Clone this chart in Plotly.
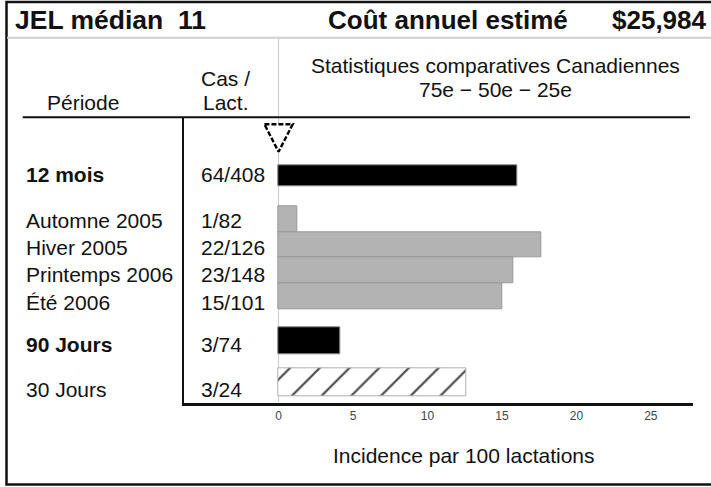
import plotly.graph_objects as go

# ---------------- data ----------------
periods = ["12 mois", "Automne 2005", "Hiver 2005", "Printemps 2006", "Été 2006", "90 Jours", "30 Jours"]
cases = ["64/408", "1/82", "22/126", "23/148", "15/101", "3/74", "3/24"]
incidence = [16.0, 1.25, 17.65, 15.75, 15.05, 4.15, 12.6]
bold_rows = [True, False, False, False, False, True, False]
bar_colors = ["#000000", "#b3b3b3", "#b3b3b3", "#b3b3b3", "#b3b3b3", "#000000", "#ffffff"]
bar_line_colors = ["#8a8a8a", "#999999", "#999999", "#999999", "#999999", "#8a8a8a", "#b0b0b0"]
bar_patterns = ["", "", "", "", "", "", "/"]
percentile_marker = 0
x_ticks = [0, 5, 10, 15, 20, 25]
jel_median = "11"
annual_cost = "$25,984"
title_left = "JEL médian"
title_mid = "Coût annuel estimé"
header_period = "Période"
header_cases = ["Cas /", "Lact."]
header_stats = ["Statistiques comparatives Canadiennes", "75e − 50e − 25e"]
x_title = "Incidence par 100 lactations"

# ---------------- layout helpers ----------------
W, H = 711, 487
FONT = "Liberation Sans, Arial, sans-serif"


def px(x):
    return x / W


def py(y):
    return 1 - y / H


X_RANGE = [-6.33, 27.83]
Y_RANGE = [11.1, 0]
X_DOM = [px(184.3), px(693)]
Y_DOM = [py(402.7), py(117.3)]
BAR_ROWS = [2.26, 3.96, 4.96, 5.96, 6.96, 8.71, 10.3]
BAR_WIDTHS = [0.82, 1.0, 1.0, 1.0, 1.0, 1.05, 1.07]
LABEL_ROWS = [2.24, 4.0, 5.07, 6.13, 7.21, 8.82, 10.57]
TRI_HALF_W = 0.95
TRI_TOP, TRI_BOTTOM = 0.27, 1.34

fig = go.Figure()

# percentile marker (triangle)
v = percentile_marker
fig.add_trace(go.Scatter(
    x=[v - TRI_HALF_W, v + TRI_HALF_W, v, v - TRI_HALF_W],
    y=[TRI_TOP, TRI_TOP, TRI_BOTTOM, TRI_TOP],
    mode="lines", fill="toself", fillcolor="white",
    line=dict(color="black", width=2.4, dash="5px,2px"),
    hoverinfo="skip", showlegend=False,
))

fig.add_trace(go.Bar(
    x=incidence, y=BAR_ROWS, width=BAR_WIDTHS, orientation="h",
    marker=dict(
        color=bar_colors,
        line=dict(color=bar_line_colors, width=1),
        pattern=dict(shape=bar_patterns, fgcolor="#000000", fgopacity=1, size=21, solidity=0.1),
    ),
    showlegend=False,
))

annotations = []
for i, (p, c) in enumerate(zip(periods, cases)):
    txt = f"<b>{p}</b>" if bold_rows[i] else p
    annotations.append(dict(x=px(24), y=LABEL_ROWS[i], xref="paper", yref="y", text=txt,
                            xanchor="left", yanchor="middle", showarrow=False,
                            font=dict(family=FONT, size=21, color="#111")))
    annotations.append(dict(x=px(199), y=LABEL_ROWS[i], xref="paper", yref="y", text=c,
                            xanchor="left", yanchor="middle", showarrow=False,
                            font=dict(family=FONT, size=21, color="#111")))

# title row
annotations += [
    dict(x=px(13), y=py(20), xref="paper", yref="paper", text=f"<b>{title_left}  {jel_median}</b>",
         xanchor="left", yanchor="middle", showarrow=False, font=dict(family=FONT, size=26.5, color="#111")),
    dict(x=px(570), y=py(20), xref="paper", yref="paper", text=f"<b>{title_mid}</b>",
         xanchor="right", yanchor="middle", showarrow=False, font=dict(family=FONT, size=26, color="#111")),
    dict(x=px(709), y=py(20), xref="paper", yref="paper", text=f"<b>{annual_cost}</b>",
         xanchor="right", yanchor="middle", showarrow=False, font=dict(family=FONT, size=26, color="#111")),
    dict(x=px(82.5), y=py(103), xref="paper", yref="paper", text=header_period,
         xanchor="center", yanchor="middle", showarrow=False, font=dict(family=FONT, size=21, color="#111")),
    dict(x=px(225.5), y=py(78), xref="paper", yref="paper", text=header_cases[0],
         xanchor="center", yanchor="middle", showarrow=False, font=dict(family=FONT, size=21, color="#111")),
    dict(x=px(225.5), y=py(102.7), xref="paper", yref="paper", text=header_cases[1],
         xanchor="center", yanchor="middle", showarrow=False, font=dict(family=FONT, size=21, color="#111")),
    dict(x=px(495), y=py(65), xref="paper", yref="paper", text=header_stats[0],
         xanchor="center", yanchor="middle", showarrow=False, font=dict(family=FONT, size=21, color="#111")),
    dict(x=px(495), y=py(90), xref="paper", yref="paper", text=header_stats[1],
         xanchor="center", yanchor="middle", showarrow=False, font=dict(family=FONT, size=21, color="#111")),
    dict(x=px(463.5), y=py(455.5), xref="paper", yref="paper", text=x_title,
         xanchor="center", yanchor="middle", showarrow=False, font=dict(family=FONT, size=21, color="#111")),
]

x0_paper = X_DOM[0] + (0 - X_RANGE[0]) / (X_RANGE[1] - X_RANGE[0]) * (X_DOM[1] - X_DOM[0])
shapes = [
    # outer border
    dict(type="rect", xref="paper", yref="paper", x0=px(6.5), x1=px(716), y0=py(484.5), y1=py(2),
         line=dict(color="#111", width=2.5), fillcolor="rgba(0,0,0,0)", layer="above"),
    # title row separator
    dict(type="line", xref="paper", yref="paper", x0=px(7), x1=px(711), y0=py(37.7), y1=py(37.7),
         line=dict(color="#d0d0d0", width=2)),
    # header underline
    dict(type="line", xref="paper", yref="paper", x0=px(22.7), x1=px(690), y0=py(117.3), y1=py(117.3),
         line=dict(color="#111", width=2), layer="above"),
    # zero / separator line
    dict(type="line", xref="paper", yref="paper", x0=x0_paper, x1=x0_paper, y0=py(402), y1=py(38.5),
         line=dict(color="#c8c8c8", width=1), layer="below"),
]

fig.update_layout(
    width=W, height=H, margin=dict(l=0, r=0, t=0, b=0),
    paper_bgcolor="white", plot_bgcolor="rgba(0,0,0,0)",
    bargap=0, showlegend=False,
    annotations=annotations, shapes=shapes,
    xaxis=dict(domain=X_DOM, range=X_RANGE, tickvals=x_ticks, showgrid=False, zeroline=False,
               showline=True, linecolor="#111", linewidth=2.5, ticks="",
               tickfont=dict(family=FONT, size=12, color="#444"), fixedrange=True),
    yaxis=dict(domain=Y_DOM, range=Y_RANGE, showgrid=False, zeroline=False, showticklabels=False,
               showline=True, linecolor="#111", linewidth=2, ticks="", fixedrange=True),
    font=dict(family=FONT),
)

fig.write_html(
    "out.html",
    config={"displayModeBar": False},
    post_script="document.body.style.margin='0';document.body.style.padding='0';"
                "window.dispatchEvent(new Event('resize'));",
)
